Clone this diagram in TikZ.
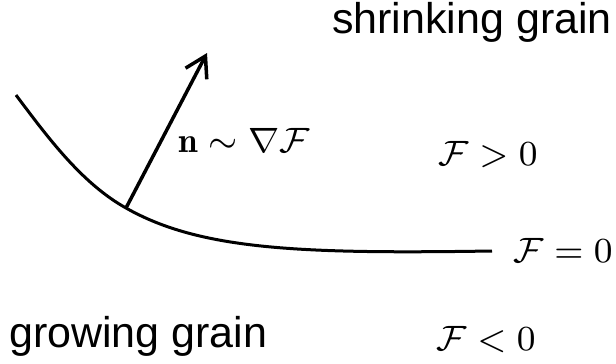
\documentclass[tikz,border=0pt]{standalone}
\usepackage{fontspec}
\setsansfont{Liberation Sans}
\usetikzlibrary{arrows.meta}

\tikzset{
  grainlabel/.style={anchor=base west, inner sep=0pt, font=\sffamily\fontsize{43}{50}\selectfont},
  mathlabel/.style={anchor=base west, inner sep=0pt, font=\footnotesize, scale=4.4},
}

\begin{document}
\begin{tikzpicture}[x=1pt, y=-1pt]
        % \draw[help lines, gray!50, very thin] (0,0) grid[step=50] (616,364);
        \useasboundingbox (0,0) rectangle (616,364);

        % interface F = 0
        \coordinate (start) at (16,95);
        \coordinate (base) at (126,208);
        \coordinate (finish) at (492,251);
        \draw[line width=3pt] (start) .. controls (46,135) and (81,183) .. (base)
              .. controls (200,250) and (300,254) .. (finish);

        % normal
        \coordinate (tip) at (207,53);
        \draw[line width=3.5pt, -{Straight Barb[length=20pt, width=24pt]}] (base) -- (tip);
        \node[mathlabel] (normal) at (178,152) {$\mathbf{n}\sim\nabla\mathcal{F}$};

        \node[grainlabel] (shrink) at (332,33) {shrinking grain};
        \node[grainlabel] (grow) at (9,347) {growing grain};

        \node[mathlabel] (Fpos) at (438,165) {$\mathcal{F}>0$};
        \node[mathlabel] (Fzero) at (513,262) {$\mathcal{F}=0$};
        \node[mathlabel] (Fneg) at (436,350) {$\mathcal{F}<0$};
      \end{tikzpicture}
\end{document}
